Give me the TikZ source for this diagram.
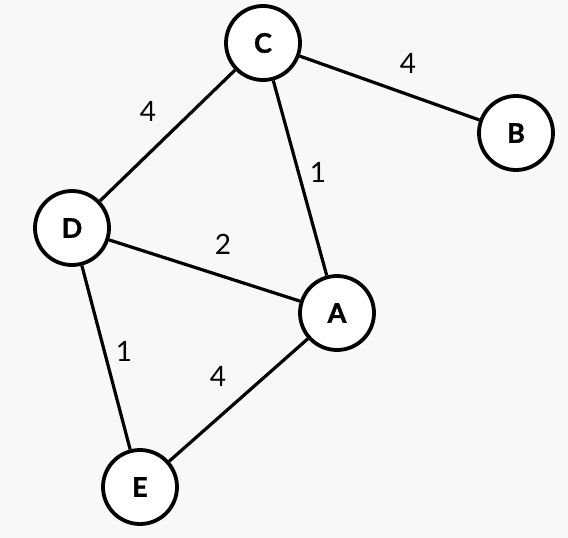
\documentclass[tikz,border=0pt]{standalone}
\usepackage{fontspec}
\setmainfont{Lato}
\newfontfamily\heavy{Lato}[BoldFeatures={FakeBold=1.3}]
\definecolor{bgc}{RGB}{248,248,248}
\begin{document}
\begin{tikzpicture}[x=1pt,y=-1pt,
  vert/.style={circle,draw=black,fill=white,line width=3.8pt,minimum size=74pt,inner sep=0pt,font=\heavy\fontsize{27}{27}\selectfont\bfseries},
  edge/.style={line width=3.2pt,black},
  wlab/.style={font=\fontsize{28}{28}\selectfont,inner sep=0pt}]
\fill[bgc] (0,0) rectangle (568,538);
\useasboundingbox (0,0) rectangle (568,538);
\node[vert] (C) at (263,43) {C};
\node[vert] (B) at (516,133) {B};
\node[vert] (D) at (72,228) {D};
\node[vert] (A) at (337,313) {A};
\node[vert] (E) at (140,487) {E};
\draw[edge] (C) -- (B);
\draw[edge] (C) -- (D);
\draw[edge] (C) -- (A);
\draw[edge] (D) -- (A);
\draw[edge] (D) -- (E);
\draw[edge] (E) -- (A);
\node[wlab] (lCB) at (408,63) {4};
\node[wlab] (lCD) at (148,111) {4};
\node[wlab] (lCA) at (318,172) {1};
\node[wlab] (lDA) at (223,244) {2};
\node[wlab] (lDE) at (124,351) {1};
\node[wlab] (lEA) at (218,376) {4};
\end{tikzpicture}
\end{document}
